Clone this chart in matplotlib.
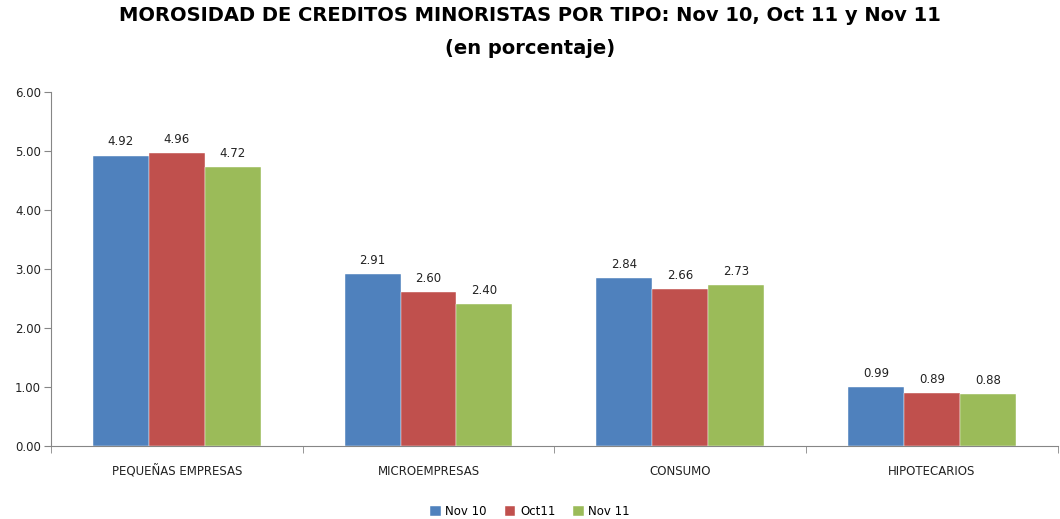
import numpy as np
from matplotlib import pyplot as plt

categories = ["PEQUEÑAS EMPRESAS", "MICROEMPRESAS", "CONSUMO", "HIPOTECARIOS"]
series_names = ["Nov 10", "Oct11", "Nov 11"]
nov10 = [4.92, 2.91, 2.84, 0.99]
oct11 = [4.96, 2.60, 2.66, 0.89]
nov11 = [4.72, 2.40, 2.73, 0.88]
colors = ["#4F81BD", "#C0504D", "#9BBB59"]

fig = plt.figure(figsize=(10.6, 5.19), dpi=100)
ax = fig.add_axes([0.048, 0.141, 0.95, 0.682])

x = np.arange(len(categories))
w = 0.222
for k, vals in enumerate([nov10, oct11, nov11]):
    bars = ax.bar(x + (k - 1) * w, vals, w, color=colors[k], label=series_names[k],
                  edgecolor="white", linewidth=0.3)
    for b, v in zip(bars, vals):
        ax.text(b.get_x() + b.get_width() / 2, v + 0.12, f"{v:.2f}",
                ha="center", va="bottom", fontsize=8.5, color="#222222")

ax.set_xlim(-0.5, len(categories) - 0.5)
ax.set_ylim(0, 6)
ax.set_yticks(np.arange(0, 6.01, 1))
ax.set_yticklabels([f"{t:.2f}" for t in np.arange(0, 6.01, 1)], fontsize=8.5, color="#222222")
ax.set_xticks(x)
ax.set_xticklabels(categories, fontsize=8.5, color="#222222")
ax.tick_params(axis="x", length=0, pad=14)
ax.set_xticks(np.arange(-0.5, len(categories)), minor=True)
ax.tick_params(axis="x", which="minor", length=5, color="#868686")
ax.tick_params(axis="y", length=5, color="#868686", pad=2)

for s in ["top", "right"]:
    ax.spines[s].set_visible(False)
for s in ["left", "bottom"]:
    ax.spines[s].set_color("#868686")

fig.text(0.5, 0.97, "MOROSIDAD DE CREDITOS MINORISTAS POR TIPO: Nov 10, Oct 11 y Nov 11",
         ha="center", va="center", fontsize=14, fontweight="bold")
fig.text(0.5, 0.907, "(en porcentaje)", ha="center", va="center", fontsize=14, fontweight="bold")

fig.legend(loc="lower center", bbox_to_anchor=(0.5, -0.018), ncol=3, frameon=False,
           fontsize=8.5, handlelength=0.9, handleheight=0.9, handletextpad=0.4, columnspacing=1.5)

fig.savefig("out.png", dpi=100)
